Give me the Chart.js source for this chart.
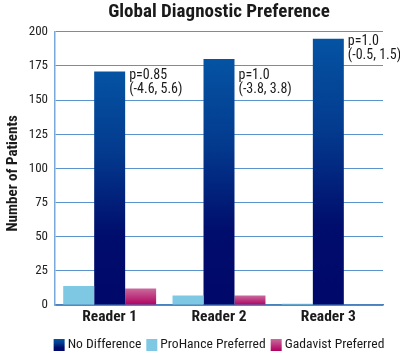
<!DOCTYPE html>
<html>
<head>
<meta charset="utf-8">
<style>
  html, body { margin: 0; padding: 0; background: #ffffff; }
  #wrap { width: 400px; height: 356px; }
</style>
<script src="https://cdn.jsdelivr.net/npm/chart.js@4"></script>
</head>
<body>
<div id="wrap"><canvas id="c" width="400" height="356"></canvas></div>
<script>
const categories = ['Reader 1', 'Reader 2', 'Reader 3'];
const seriesNames = ['ProHance Preferred', 'No Difference', 'Gadavist Preferred'];
const prohancePreferred = [14, 7, 1];
const noDifference = [171, 180, 195];
const gadavistPreferred = [12, 7, 0];
const pValues = ['p=0.85', 'p=1.0', 'p=1.0'];
const intervals = ['(-4.6, 5.6)', '(-3.8, 3.8)', '(-0.5, 1.5)'];
const noteAnchor = [168, 168, 193];
const legendOrder = ['No Difference', 'ProHance Preferred', 'Gadavist Preferred'];
const chartTitle = 'Global Diagnostic Preference';
const yTitle = 'Number of Patients';
const yMin = 0, yMax = 200, yStep = 25;

const FAM = "'Roboto Condensed', 'DejaVu Sans Condensed', sans-serif";
Chart.defaults.font.family = FAM;
Chart.defaults.color = '#1a1a1a';

const navyStops = [[0, '#0553a3'], [0.35, '#033a8e'], [0.7, '#000d6c'], [1, '#00086a']];
const pinkStops = [[0, '#c96b9d'], [1, '#b0005f']];
const lightBlue = '#7ec8e4';

function gradFill(stops) {
  return (ctx) => {
    const chart = ctx.chart;
    if (!chart.chartArea || ctx.type !== 'data' || ctx.parsed == null) return stops[stops.length - 1][1];
    const ys = chart.scales.y;
    const top = ys.getPixelForValue(ctx.parsed.y);
    const bot = ys.getPixelForValue(0);
    if (bot - top < 1) return stops[stops.length - 1][1];
    const g = chart.ctx.createLinearGradient(0, top, 0, bot);
    stops.forEach(s => g.addColorStop(s[0], s[1]));
    return g;
  };
}

const extras = {
  id: 'extras',
  afterDatasetsDraw(chart) {
    const c = chart.ctx;
    const ys = chart.scales.y;
    const meta = chart.getDatasetMeta(1);
    c.save();
    c.font = '14px ' + FAM;
    c.fillStyle = '#1a1a1a';
    c.textAlign = 'left';
    c.textBaseline = 'middle';
    meta.data.forEach((el, i) => {
      const x = el.x + el.width / 2 + 4;
      const y = ys.getPixelForValue(noteAnchor[i]);
      c.fillText(pValues[i], x, y);
      c.fillText(intervals[i], x, y + 14);
    });
    c.restore();
  },
  afterDraw(chart) {
    const c = chart.ctx;
    const area = chart.chartArea;
    // y axis title
    c.save();
    c.font = 'bold 15px ' + FAM;
    c.fillStyle = '#1a1a1a';
    c.textAlign = 'center';
    c.textBaseline = 'middle';
    c.translate(13, (area.top + area.bottom) / 2 + 5);
    c.rotate(-Math.PI / 2);
    c.fillText(yTitle, 0, 0);
    c.restore();
    // legend
    c.save();
    c.font = '13.6px ' + FAM;
    c.textBaseline = 'middle';
    c.textAlign = 'left';
    const boxW = 11, boxH = 12, gap = 3, itemGap = 5;
    const items = legendOrder.map(name => ({ name, w: c.measureText(name).width }));
    const total = items.reduce((s, it) => s + boxW + gap + it.w, 0) + itemGap * (items.length - 1);
    let x = (area.left + area.right) / 2 - total / 2;
    const cy = 345;
    items.forEach(it => {
      let fill;
      if (it.name === 'No Difference') {
        fill = c.createLinearGradient(0, cy - boxH / 2, 0, cy + boxH / 2);
        navyStops.forEach(s => fill.addColorStop(s[0], s[1]));
      } else if (it.name === 'Gadavist Preferred') {
        fill = c.createLinearGradient(0, cy - boxH / 2, 0, cy + boxH / 2);
        pinkStops.forEach(s => fill.addColorStop(s[0], s[1]));
      } else {
        fill = lightBlue;
      }
      c.fillStyle = fill;
      c.fillRect(x, cy - boxH / 2, boxW, boxH);
      c.fillStyle = '#1a1a1a';
      c.fillText(it.name, x + boxW + gap, cy);
      x += boxW + gap + it.w + itemGap;
    });
    c.restore();
  }
};

new Chart(document.getElementById('c'), {
  type: 'bar',
  data: {
    labels: categories,
    datasets: [
      { label: seriesNames[0], data: prohancePreferred, backgroundColor: lightBlue },
      { label: seriesNames[1], data: noDifference, backgroundColor: gradFill(navyStops) },
      { label: seriesNames[2], data: gadavistPreferred, backgroundColor: gradFill(pinkStops) }
    ]
  },
  options: {
    responsive: false,
    animation: false,
    devicePixelRatio: 1,
    categoryPercentage: 0.85,
    barPercentage: 1.0,
    layout: { padding: { left: 0, right: 17, top: 0, bottom: 27 } },
    plugins: {
      legend: { display: false },
      tooltip: { enabled: false },
      title: {
        display: true,
        text: chartTitle,
        fullSize: false,
        font: { size: 19, weight: 'bold', family: FAM },
        color: '#1a1a1a',
        padding: { top: 1, bottom: 8 }
      }
    },
    scales: {
      x: {
        grid: { display: false, drawTicks: false },
        border: { color: '#4a82c0', width: 1.5 },
        ticks: { font: { size: 15.5, weight: 'bold', family: FAM }, color: '#1a1a1a', padding: 3 },
        afterFit(scale) { scale.height = 24; }
      },
      y: {
        min: yMin,
        max: yMax,
        ticks: { stepSize: yStep, font: { size: 13, family: FAM }, color: '#222222', padding: 7 },
        grid: { color: '#5b93cc', lineWidth: 1, drawTicks: false },
        border: { color: '#78a9da', width: 1.5 },
        afterFit(scale) { scale.width = 55; }
      }
    }
  },
  plugins: [extras]
});
</script>
</body>
</html>
